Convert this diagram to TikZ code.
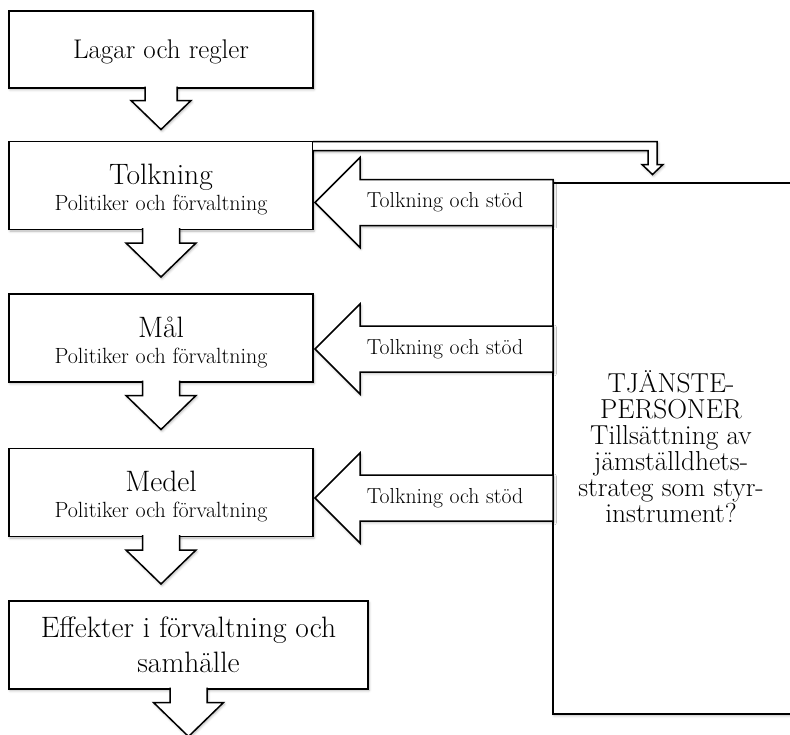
\documentclass[tikz,border=0pt]{standalone}
\usepackage{tikz}
\usetikzlibrary{calc,shadows.blur}
\newcommand{\undertext}[1]{{\fontsize{22}{26}\selectfont #1}}
\newcommand{\rubrik}[2]{\rule{0pt}{28.5pt}#1\\\undertext{#2}}

\begin{document}
\begin{tikzpicture}[x=1pt,y=-1pt,line width=1.5pt,
  flowbox/.style={rectangle,draw=black,fill=white,minimum width=304pt,minimum height=88pt,
                  inner sep=0pt,outer sep=0pt,align=center,font=\fontsize{29.5}{26}\selectfont,
                  blur shadow={shadow xshift=1pt,shadow yshift=-1.5pt,shadow blur radius=2.5pt,
                  shadow opacity=30}},
  blockarrow/.style={draw=black,fill=white,line join=miter,
                  blur shadow={shadow xshift=1pt,shadow yshift=-1.5pt,shadow blur radius=2.5pt,
                  shadow opacity=30}},
  stodtext/.style={font=\fontsize{21.7}{24}\selectfont,inner sep=0pt}]

  \useasboundingbox (0,0) rectangle (790,734);

  % Tjänstepersoner
  \node[flowbox,minimum width=242pt,minimum height=531pt] (tjp) at (674,448.5) {};
  \node[font=\fontsize{27.4}{26}\selectfont,align=center] (tjptext) at (671,447)
    {TJÄNSTE-\\PERSONER\\Tillsättning av\\jämställdhets-\\strateg som styr-\\instrument?};

  % Kedjan
  \node[flowbox,minimum height=77pt,font=\fontsize{27}{28}\selectfont,text depth=0pt]
    (lagar) at (161,49.5) {Lagar och regler};
  \node[flowbox] (tolk)  at (161,185.5) {\rubrik{Tolkning}{Politiker och förvaltning}};
  \node[flowbox] (mal)   at (161,338)   {\rubrik{Mål}{Politiker och förvaltning}};
  \node[flowbox] (medel) at (161,492.5) {\rubrik{Medel}{Politiker och förvaltning}};
  \node[flowbox,minimum width=359pt,font=\fontsize{29.5}{35}\selectfont] (effekt) at (188.5,645)
    {Effekter i förvaltning och\\samhälle};

  % Pilar nedåt
  \draw[blockarrow] ($(lagar.south)+(-16,-1.5)$) -- ++(0,14) -- ++(-14,0) -- ++(30,29)
    -- ++(30,-29) -- ++(-14,0) -- ++(0,-14);
  \foreach \b in {tolk,mal,medel,effekt}
    \draw[blockarrow] ($(\b.south)+(-18.5,-1.5)$) -- ++(0,15) -- ++(-16.5,0) -- ++(35,34)
      -- ++(35,-34) -- ++(-16.5,0) -- ++(0,-15);

  % Pil till tjänstepersoner
  \draw[blockarrow] (tolk.north east) ++(0,9) -- ++(335,0) -- ++(0,14) -- ++(-6,0)
    -- ++(10.5,10) -- ++(10.5,-10) -- ++(-6,0) -- ++(0,-23) -- (tolk.north east);

  % Tolkning och stöd
  \coordinate (s1) at (445,202.5);
  \coordinate (s2) at (445,349);
  \coordinate (s3) at (445,498);
  \foreach \s in {s1,s2,s3}
    \draw[blockarrow] (tjp.west |- \s) ++(0,-23) -- ++(-193,0) -- ++(0,-22) -- ++(-45,45)
      -- ++(45,45) -- ++(0,-22) -- ++(193,0) -- cycle;
  \node[stodtext] (stod1) at (s1) {Tolkning och stöd};
  \node[stodtext] (stod2) at (s2) {Tolkning och stöd};
  \node[stodtext] (stod3) at (s3) {Tolkning och stöd};
\end{tikzpicture}
\end{document}
